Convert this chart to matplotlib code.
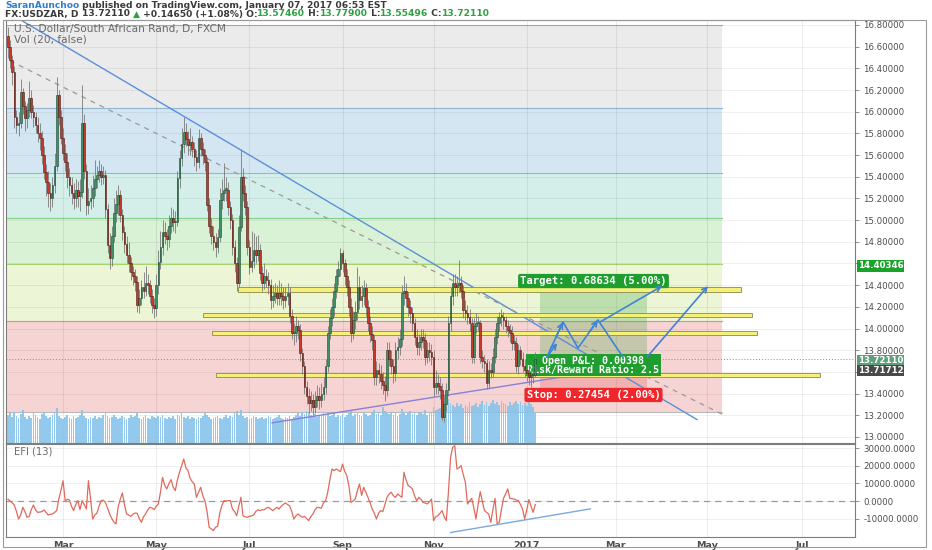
import numpy as np
import pandas as pd
import matplotlib
matplotlib.use('Agg')
import matplotlib.pyplot as plt
from matplotlib.patches import Rectangle
from matplotlib.transforms import blended_transform_factory

dates = pd.bdate_range('2016-01-25', '2017-07-31')

closes = np.array([
    16.60, 16.48, 16.37, 15.95, 15.88, 15.90, 16.18, 16.05, 15.94, 16.02,
    16.13, 16.00, 15.95, 15.88, 15.80, 15.76, 15.60, 15.44, 15.35, 15.25,
    15.20, 15.32, 15.50, 16.15, 15.95, 15.76, 15.62, 15.54, 15.40, 15.32,
    15.25, 15.20, 15.28, 15.22, 15.26, 15.90, 15.45, 15.14, 15.18, 15.20,
    15.30, 15.38, 15.42, 15.45, 15.40, 15.42, 15.10, 14.77, 14.65, 14.85,
    15.07, 15.15, 15.23, 15.05, 14.89, 14.78, 14.68, 14.60, 14.52, 14.48,
    14.43, 14.22, 14.28, 14.38, 14.35, 14.42, 14.40, 14.30, 14.22, 14.19,
    14.40, 14.61, 14.75, 14.89, 14.85, 14.83, 14.95, 15.02, 14.98, 14.98,
    15.39, 15.57, 15.70, 15.81, 15.75, 15.69, 15.72, 15.66, 15.58, 15.54,
    15.76, 15.66, 15.60, 15.54, 15.14, 14.95, 14.85, 14.80, 14.75, 14.84,
    15.19, 15.25, 15.28, 15.28, 15.12, 15.00, 14.75, 14.60, 14.42, 14.94,
    15.40, 15.25, 15.12, 14.75, 14.57, 14.62, 14.72, 14.68, 14.72, 14.51,
    14.42, 14.48, 14.45, 14.40, 14.26, 14.30, 14.33, 14.28, 14.33, 14.30,
    14.26, 14.30, 14.33, 14.12, 13.96, 13.96, 14.02, 13.99, 13.77, 13.65,
    13.46, 13.38, 13.31, 13.34, 13.28, 13.34, 13.38, 13.34, 13.40, 13.46,
    13.65, 13.96, 14.10, 14.20, 14.35, 14.48, 14.55, 14.70, 14.60, 14.48,
    14.38, 14.20, 13.96, 14.08, 14.15, 14.38, 14.26, 14.30, 14.37, 14.20,
    14.05, 13.95, 13.89, 13.55, 13.62, 13.58, 13.52, 13.48, 13.43, 13.80,
    13.72, 13.65, 13.59, 13.80, 13.83, 13.90, 14.33, 14.35, 14.28, 14.20,
    14.14, 14.05, 13.92, 13.83, 13.88, 13.92, 13.89, 13.74, 13.80, 13.78,
    13.74, 13.46, 13.50, 13.47, 13.43, 13.18, 13.30, 13.43, 14.05, 14.30,
    14.42, 14.38, 14.40, 14.42, 14.35, 14.17, 14.14, 14.11, 14.05, 13.74,
    14.02, 14.05, 14.05, 13.74, 13.70, 13.68, 13.50, 13.62, 13.60, 13.74,
    13.92, 14.05, 14.11, 14.11, 14.08, 14.02, 13.99, 13.96, 13.87, 13.87,
    13.65, 13.80, 13.72, 13.65, 13.62, 13.59, 13.55, 13.57, 13.57, 13.72,
])
first_open = 16.70

highs = np.array([
    16.78, 16.66, 16.52, 16.42, 16.02, 16.00, 16.30, 16.22, 16.10, 16.08,
    16.28, 16.20, 16.06, 16.00, 15.95, 15.90, 15.82, 15.68, 15.52, 15.45,
    15.34, 15.40, 15.62, 16.32, 16.20, 16.02, 15.85, 15.70, 15.62, 15.48,
    15.40, 15.34, 15.38, 15.36, 15.38, 16.25, 15.98, 15.52, 15.30, 15.32,
    15.42, 15.55, 15.50, 15.55, 15.52, 15.50, 15.46, 15.15, 14.88, 14.95,
    15.20, 15.28, 15.32, 15.28, 15.10, 14.95, 14.85, 14.80, 14.66, 14.58,
    14.55, 14.48, 14.36, 14.45, 14.52, 14.58, 14.50, 14.45, 14.36, 14.28,
    14.50, 14.72, 14.90, 15.00, 14.98, 14.92, 15.05, 15.12, 15.10, 15.08,
    15.45, 15.65, 15.85, 15.95, 15.90, 15.82, 15.85, 15.78, 15.72, 15.65,
    15.84, 15.80, 15.72, 15.66, 15.58, 15.20, 15.02, 14.95, 14.88, 14.92,
    15.30, 15.38, 15.53, 15.40, 15.35, 15.18, 15.06, 14.82, 14.66, 15.05,
    15.65, 15.48, 15.32, 15.18, 14.82, 14.90, 14.88, 14.85, 14.86, 14.78,
    14.58, 14.60, 14.55, 14.52, 14.46, 14.40, 14.42, 14.40, 14.45, 14.42,
    14.38, 14.38, 14.42, 14.38, 14.18, 14.05, 14.12, 14.08, 14.04, 13.82,
    13.70, 13.52, 13.45, 13.42, 13.40, 13.42, 13.48, 13.46, 13.50, 13.55,
    13.72, 14.02, 14.18, 14.28, 14.42, 14.55, 14.62, 14.74, 14.72, 14.64,
    14.55, 14.45, 14.28, 14.16, 14.25, 14.57, 14.48, 14.40, 14.45, 14.42,
    14.26, 14.12, 14.02, 13.94, 13.70, 13.68, 13.66, 13.60, 13.56, 13.88,
    13.88, 13.80, 13.72, 13.88, 13.92, 14.00, 14.40, 14.48, 14.42, 14.34,
    14.26, 14.20, 14.10, 14.00, 13.95, 14.00, 14.00, 13.96, 13.88, 13.88,
    13.86, 13.80, 13.62, 13.58, 13.55, 13.50, 13.38, 13.50, 14.12, 14.38,
    14.50, 14.50, 14.48, 14.63, 14.48, 14.40, 14.26, 14.22, 14.18, 14.10,
    14.10, 14.14, 14.12, 14.08, 13.80, 13.76, 13.72, 13.70, 13.68, 13.82,
    14.00, 14.12, 14.15, 14.18, 14.15, 14.12, 14.08, 14.04, 14.02, 13.94,
    13.92, 13.86, 13.84, 13.78, 13.72, 13.68, 13.66, 13.64, 13.66, 13.78,
])

lows = np.array([
    16.50, 16.40, 16.25, 15.85, 15.80, 15.78, 15.85, 15.98, 15.82, 15.85,
    15.95, 15.94, 15.86, 15.80, 15.72, 15.65, 15.52, 15.38, 15.22, 15.12,
    15.08, 15.12, 15.25, 15.45, 15.88, 15.70, 15.55, 15.45, 15.30, 15.22,
    15.15, 15.10, 15.12, 15.12, 15.08, 15.20, 15.38, 15.05, 15.06, 15.10,
    15.12, 15.22, 15.30, 15.35, 15.32, 15.33, 15.02, 14.70, 14.55, 14.58,
    14.80, 14.98, 15.05, 14.98, 14.82, 14.70, 14.60, 14.52, 14.45, 14.40,
    14.35, 14.15, 14.14, 14.22, 14.28, 14.30, 14.32, 14.24, 14.14, 14.10,
    14.12, 14.32, 14.55, 14.68, 14.78, 14.72, 14.75, 14.88, 14.90, 14.88,
    14.95, 15.30, 15.50, 15.62, 15.68, 15.60, 15.60, 15.58, 15.50, 15.45,
    15.48, 15.60, 15.52, 15.45, 15.08, 14.88, 14.78, 14.72, 14.66, 14.70,
    14.80, 15.10, 15.18, 15.18, 15.05, 14.92, 14.68, 14.52, 14.35, 14.38,
    14.90, 15.18, 15.05, 14.68, 14.50, 14.52, 14.56, 14.60, 14.62, 14.45,
    14.35, 14.36, 14.38, 14.32, 14.18, 14.20, 14.24, 14.22, 14.22, 14.22,
    14.18, 14.20, 14.22, 14.05, 13.90, 13.85, 13.88, 13.90, 13.70, 13.58,
    13.40, 13.30, 13.22, 13.24, 13.20, 13.22, 13.28, 13.26, 13.28, 13.34,
    13.40, 13.60, 13.90, 14.02, 14.12, 14.28, 14.40, 14.48, 14.52, 14.40,
    14.30, 14.12, 13.88, 13.90, 14.00, 14.08, 14.18, 14.20, 14.22, 14.12,
    13.98, 13.88, 13.80, 13.48, 13.48, 13.50, 13.44, 13.40, 13.33, 13.38,
    13.65, 13.58, 13.50, 13.52, 13.72, 13.76, 13.84, 14.22, 14.20, 14.12,
    14.05, 13.98, 13.85, 13.76, 13.76, 13.80, 13.82, 13.66, 13.68, 13.70,
    13.66, 13.38, 13.40, 13.40, 13.35, 13.16, 13.14, 13.24, 13.38, 13.98,
    14.22, 14.30, 14.30, 14.34, 14.28, 14.10, 14.08, 14.04, 13.98, 13.68,
    13.68, 13.96, 13.98, 13.68, 13.64, 13.60, 13.44, 13.45, 13.54, 13.55,
    13.68, 13.86, 13.98, 14.02, 14.00, 13.96, 13.92, 13.88, 13.80, 13.80,
    13.60, 13.58, 13.66, 13.60, 13.55, 13.52, 13.48, 13.46, 13.50, 13.55,
])

volume = np.array([
    28, 30, 26, 31, 27, 25, 29, 33, 26, 24, 27, 25, 30, 28, 26, 24, 29, 31, 27, 25,
    26, 28, 30, 35, 27, 25, 24, 26, 28, 25, 24, 27, 25, 26, 28, 33, 27, 25, 24, 26,
    25, 27, 24, 26, 25, 28, 30, 27, 25, 26, 28, 26, 24, 25, 27, 26, 24, 25, 28, 26,
    27, 30, 25, 24, 26, 28, 25, 24, 27, 26, 25, 27, 26, 28, 25, 24, 26, 25, 27, 24,
    28, 27, 30, 26, 25, 27, 24, 26, 25, 24, 26, 25, 27, 30, 28, 26, 24, 25, 26, 27,
    25, 24, 26, 28, 25, 27, 26, 30, 32, 28, 33, 27, 25, 26, 24, 25, 27, 26, 24, 25,
    26, 24, 25, 27, 26, 24, 25, 26, 28, 25, 24, 26, 25, 27, 24, 26, 28, 30, 27, 31,
    29, 32, 30, 28, 27, 29, 26, 28, 27, 30, 29, 31, 27, 28, 30, 26, 28, 27, 29, 26,
    28, 30, 33, 27, 29, 31, 28, 27, 30, 29, 27, 28, 30, 33, 29, 31, 28, 36, 32, 30,
    29, 31, 28, 30, 27, 29, 34, 31, 28, 30, 32, 29, 30, 28, 31, 30, 29, 33, 28, 30,
    31, 36, 33, 34, 35, 48, 42, 38, 44, 40, 38, 36, 40, 37, 39, 35, 38, 36, 41, 37,
    38, 40, 36, 39, 42, 38, 41, 37, 40, 43, 39, 41, 38, 42, 40, 39, 37, 41, 38, 40,
    42, 39, 41, 38, 40, 37, 42, 39, 36, 30,
])

efi_k = np.array([
    1.0, 0.0, -1.0, -2.4, -6.0, -10.3, -8.0, -3.6, -6.0, -9.3,
    -8.8, -5.0, -2.3, -5.0, -6.5, -6.3, -6.1, -5.1, -6.5, -8.0,
    -7.6, -7.4, -6.5, -5.5, 1.1, 6.0, 11.6, 0.2, 1.0, 0.6,
    -3.0, -5.5, -2.0, 0.2, -5.0, 0.2, -2.0, -4.6, 11.6, 1.1,
    -10.3, -8.0, -6.9, -3.0, 0.2, 0.5, -0.8, -4.0, -7.4, -10.0,
    -12.0, -13.1, -3.6, 1.0, 4.6, -2.0, -7.4, -8.0, -8.8, -7.5,
    -6.9, -7.0, -10.0, -12.2, -9.0, -7.4, -5.0, -3.6, -4.0, -5.0,
    -3.0, -1.7, 5.0, 13.5, 9.0, 6.9, 10.0, 12.2, 8.0, 5.9,
    12.0, 16.4, 20.2, 24.0, 19.0, 17.3, 13.0, 11.0, 9.7, 2.1,
    5.0, 7.8, 3.0, 0.2, -6.0, -15.0, -16.0, -16.9, -15.0, -14.5,
    -7.0, -2.7, 0.2, 0.0, 0.2, 0.2, -4.6, -6.0, -8.4, -3.0,
    2.1, -8.4, -9.0, -9.3, -8.8, -8.5, -8.0, -6.0, -5.0, -5.5,
    -5.0, -5.0, -4.0, -3.6, -4.5, -5.5, -4.5, -3.6, -4.6, -3.0,
    -2.0, -1.1, -2.0, -2.7, -6.0, -10.3, -8.5, -7.4, -8.5, -9.3,
    -8.8, -10.0, -11.2, -9.0, -7.4, -5.0, -3.6, -3.8, -4.1, -1.0,
    0.2, 5.0, 12.0, 18.3, 17.3, 18.3, 17.5, 16.8, 21.1, 17.0,
    14.5, 8.8, -0.8, 0.0, 1.1, 6.0, 9.7, 3.2, 7.8, 5.0,
    2.1, -1.0, -4.6, -7.0, -10.3, -7.0, -5.5, -6.1, -2.0, 2.1,
    4.0, 5.0, 3.0, 2.1, 4.0, 3.0, 2.1, 16.4, 12.0, 8.8,
    8.0, 6.9, 3.0, 0.2, 2.1, 1.0, -0.8, -1.2, -1.7, -0.5,
    1.1, -11.2, -9.0, -8.4, -7.0, -5.5, -9.0, -11.2, 5.0, 25.0,
    30.7, 31.6, 18.3, 19.0, 20.2, 15.0, 10.7, -1.7, 0.0, 1.5,
    -4.0, -10.3, -2.0, 5.3, 0.0, -5.5, -6.5, -7.4, -12.2, -5.0,
    1.5, -13.1, -12.2, -5.0, 1.5, 4.0, 6.9, 1.5, 1.3, 1.1,
    0.6, 0.2, -2.0, -4.6, -10.3, -5.0, 0.8, -3.0, -6.5, -2.0,
])
efi = efi_k * 1000

# fib retracement drawn on the chart
fib_low, fib_high = 13.23, 16.80
fib_levels = [0, 0.236, 0.382, 0.5, 0.618, 0.786, 1.0]
fib_fill = ['#f6d4d4', '#ecf5d6', '#d9f1d5', '#d4efe9', '#d5e6f3', '#ebebeb']
fib_line = ['#b9b9b9', '#e08a8a', '#a7d36f', '#7fcf86', '#6fcfbd', '#8fb6d3', '#b0b0b0']
fib_end = 337.2

# horizontal S/R zones: (bottom, top, start bar, end bar)
sr_zones = [(14.337, 14.383, 108.6, 346.2),
            (14.106, 14.143, 92.1, 351.4),
            (13.940, 13.977, 96.3, 353.7),
            (13.553, 13.590, 98.2, 383.5)]

# long position tool
entry, target, stop = 13.72110, 14.40346, 13.44656
pos_x0, pos_x1 = 251.2, 301.8

# trend lines (bar index, price)
down_line = ([5.7, 325.4], [16.85, 13.16])
mid_dash = ([0.9, 337.2], [16.47, 13.21])
up_line = ([124.7, 291.4], [13.13, 13.645])
zigzag = ([254.5, 262.1, 269.2, 278.6, 290.4], [13.737, 14.060, 13.820, 14.079, 13.737])
proj_arrows = [((254.5, 13.737), (259.3, 13.866)),
               ((279.6, 14.060), (308.9, 14.392)),
               ((301.8, 13.737), (330.6, 14.392))]
efi_line = ([209.0, 275.0], [-18000, -4500])

# price scale tags: (position on scale, text, colour)
scale_tags = [(14.577, '14.40346', '#1aa32a'),
              (13.705, '13.72110', '#5f9f7c'),
              (13.615, '13.71712', '#4a4a4a')]
hidden_ticks = [14.6, 13.6]

month_ticks = [(2016, 3, 'Mar'), (2016, 5, 'May'), (2016, 7, 'Jul'), (2016, 9, 'Sep'),
               (2016, 11, 'Nov'), (2017, 1, '2017'), (2017, 3, 'Mar'), (2017, 5, 'May'),
               (2017, 7, 'Jul')]

# ---- figure ----
W, H = 932, 550
fig = plt.figure(figsize=(W / 100, H / 100), dpi=100)
fig.patch.set_facecolor('white')


def box(l, t, r, b):
    return [l / W, 1 - b / H, (r - l) / W, (b - t) / H]


ax = fig.add_axes(box(6, 20, 855, 443))
ax2 = fig.add_axes(box(6, 444, 855, 537))

x = np.arange(len(closes))
opens = np.r_[first_open, closes[:-1]]
xlim = (-0.94, 400.0)
ax.set_xlim(*xlim)
ax2.set_xlim(*xlim)
ax.set_ylim(12.944, 16.846)
ax2.set_ylim(-20570, 32570)

# month positions
tick_pos = []
for yy, mm, lab in month_ticks:
    idx = np.where((dates.year == yy) & (dates.month == mm))[0][0]
    tick_pos.append(idx)

# fib zones
for k in range(len(fib_levels) - 1):
    p0 = fib_low + fib_levels[k] * (fib_high - fib_low)
    p1 = fib_low + fib_levels[k + 1] * (fib_high - fib_low)
    ax.add_patch(Rectangle((-5, p0), fib_end + 5, p1 - p0, fc=fib_fill[k], ec='none', zorder=0.5))
for k, lv in enumerate(fib_levels):
    p = fib_low + lv * (fib_high - fib_low)
    ax.plot([-5, fib_end], [p, p], color=fib_line[k], lw=0.8, zorder=0.7)

# grid
yt = np.round(np.arange(13.0, 16.81, 0.2), 1)
for p in yt:
    ax.axhline(p, color='#000000', alpha=0.06, lw=0.7, zorder=0.8)
for t in tick_pos:
    ax.axvline(t, color='#000000', alpha=0.07, lw=0.8, zorder=0.8)
    ax2.axvline(t, color='#000000', alpha=0.07, lw=0.8, zorder=0.8)

# position boxes
ax.add_patch(Rectangle((pos_x0, entry), pos_x1 - pos_x0, target - entry,
                       fc='#43a843', alpha=0.28, ec='none', zorder=1))
ax.add_patch(Rectangle((pos_x0, stop), pos_x1 - pos_x0, entry - stop,
                       fc='#e53935', alpha=0.22, ec='none', zorder=1))

# volume
vtr = blended_transform_factory(ax.transData, ax.transAxes)
ax.bar(x, volume / 423.0, bottom=0, width=0.8, color='#86c3ea', alpha=0.9,
       transform=vtr, zorder=2)

# current price line
ax.axhline(entry, color='#8c8c8c', lw=0.7, ls=(0, (1, 2)), zorder=2)

# trend lines
ax.plot(*down_line, color='#5b8fd9', lw=1.0, zorder=3)
ax.plot(*mid_dash, color='#9a9a9a', lw=0.9, ls=(0, (4, 4)), zorder=3)
ax.plot(*up_line, color='#8b7fd6', lw=1.0, zorder=3)

# S/R zones
for b, t, x0, x1 in sr_zones:
    ax.add_patch(Rectangle((x0, b), x1 - x0, t - b, fc='#f4f07a', ec='#8a8a4a',
                           lw=0.6, zorder=3.5))

# labels of the position tool
lab_x = (pos_x0 + pos_x1) / 2
mono = dict(family='DejaVu Sans Mono', fontweight='bold', color='white', ha='center', va='center')
ax.text(lab_x, 14.438, 'Target: 0.68634 (5.00%)', fontsize=7.6, zorder=4,
        bbox=dict(boxstyle='round,pad=0.2', fc='#1f9e2f', ec='none'), **mono)
ax.text(lab_x, 13.66, 'Open P&L: 0.00398\nRisk/Reward Ratio: 2.5', fontsize=7.2,
        linespacing=0.85, zorder=4,
        bbox=dict(boxstyle='square,pad=0.15', fc='#1f9e2f', ec='none'), **mono)
ax.text(lab_x, 13.387, 'Stop: 0.27454 (2.00%)', fontsize=7.6, zorder=4,
        bbox=dict(boxstyle='round,pad=0.2', fc='#f0262b', ec='none'), **mono)

# projection arrows
ax.plot(*zigzag, color='#3f83d8', lw=1.2, zorder=4.5)
for k in (1, 3):
    ax.annotate('', xy=(zigzag[0][k], zigzag[1][k]),
                xytext=(zigzag[0][k - 1] + 0.6 * (zigzag[0][k] - zigzag[0][k - 1]),
                        zigzag[1][k - 1] + 0.6 * (zigzag[1][k] - zigzag[1][k - 1])),
                arrowprops=dict(arrowstyle='->', color='#3f83d8', lw=1.2,
                                shrinkA=0, shrinkB=0, mutation_scale=9), zorder=4.5)
for (sx, sy), (ex, ey) in proj_arrows:
    ax.annotate('', xy=(ex, ey), xytext=(sx, sy),
                arrowprops=dict(arrowstyle='->', color='#3f83d8', lw=1.2,
                                shrinkA=0, shrinkB=0, mutation_scale=9), zorder=4.5)

# candles
up = closes >= opens
ax.vlines(x, lows, highs, color='#7a7a7a', lw=0.6, zorder=5)
body_lo = np.minimum(opens, closes)
body_h = np.maximum(np.abs(closes - opens), 0.012)
ax.bar(x[up], body_h[up], bottom=body_lo[up], width=0.78, color='#3c9264',
       edgecolor='#1d4a33', lw=0.4, zorder=6)
ax.bar(x[~up], body_h[~up], bottom=body_lo[~up], width=0.78, color='#c53a2a',
       edgecolor='#4a1710', lw=0.4, zorder=6)

# axes styling
for a in (ax, ax2):
    for s in a.spines.values():
        s.set_color('#7d7d7d')
        s.set_linewidth(0.8)
    a.yaxis.tick_right()
    a.tick_params(axis='y', labelsize=6.2, colors='#7d7d7d', labelcolor='#4d4d4d',
                  length=3, width=0.6, pad=3)
ax.set_yticks(yt)
ax.set_yticklabels(['' if p in hidden_ticks else '%.5f' % p for p in yt])
ax.set_xticks([])

et = [-10000, 0, 10000, 20000, 30000]
ax2.set_yticks(et)
ax2.set_yticklabels(['%.4f' % v for v in et])
for v in et:
    ax2.axhline(v, color='#000000', alpha=0.06, lw=0.7, zorder=0.8)
ax2.set_xticks(tick_pos)
ax2.set_xticklabels([m[2] for m in month_ticks])
ax2.tick_params(axis='x', length=0, labelsize=6.8, labelcolor='#4d4d4d', pad=3)
for lab in ax2.get_xticklabels():
    lab.set_fontweight('bold')

# EFI pane
ax2.axhline(0, color='#9a9a9a', lw=0.9, ls=(0, (5, 4)), zorder=1)
ax2.plot(x, efi, color='#e06a5c', lw=0.9, zorder=3)
ax2.plot(*efi_line, color='#7ea8e2', lw=1.0, zorder=3)

# right-side price tags
ytr = blended_transform_factory(ax.transAxes, ax.transData)
for p, txt, fc in scale_tags:
    ax.text(1.003, p, txt, transform=ytr, fontsize=6.2, color='white', fontweight='bold',
            ha='left', va='center', zorder=10, clip_on=False,
            bbox=dict(boxstyle='square,pad=0.12', fc=fc, ec='none'))

# pane captions
fig.text(14 / W, 1 - 29 / H, 'U.S. Dollar/South African Rand, D, FXCM', fontsize=7.6,
         color='#6a6a6a', va='center')
fig.text(14 / W, 1 - 39 / H, 'Vol (20, false)', fontsize=7.6, color='#6a6a6a', va='center')
fig.text(14 / W, 1 - 452 / H, 'EFI (13)', fontsize=7.2, color='#6a6a6a', va='center')

# header lines
renderer = fig.canvas.get_renderer()


def text_run(x0, y0, parts):
    for s, c in parts:
        t = fig.text(x0 / W, 1 - y0 / H, s, color=c, fontsize=6.6, fontweight='bold',
                     ha='left', va='center')
        x0 += t.get_window_extent(renderer=renderer).width


dark = '#3a3a3a'
grn = '#2ea043'
text_run(5, 5, [('SaranAunchoo', '#2f80d1'),
                (' published on TradingView.com, January 07, 2017 06:53 EST', dark)])
text_run(5, 14, [('FX:USDZAR, D ', dark), ('13.72110 ', dark), ('\u25b2', grn),
                 (' +0.14650 (+1.08%) O:', dark), ('13.57460', grn), (' H:', dark),
                 ('13.77900', grn), (' L:', dark), ('13.55496', grn), (' C:', dark),
                 ('13.72110', grn)])

# outer frame
fig.add_artist(Rectangle((3 / W, 1 - 547 / H), 923 / W, 527 / H, transform=fig.transFigure,
                         fill=False, ec='#9a9a9a', lw=0.8))

fig.savefig('out.png', dpi=100, facecolor=fig.get_facecolor())
